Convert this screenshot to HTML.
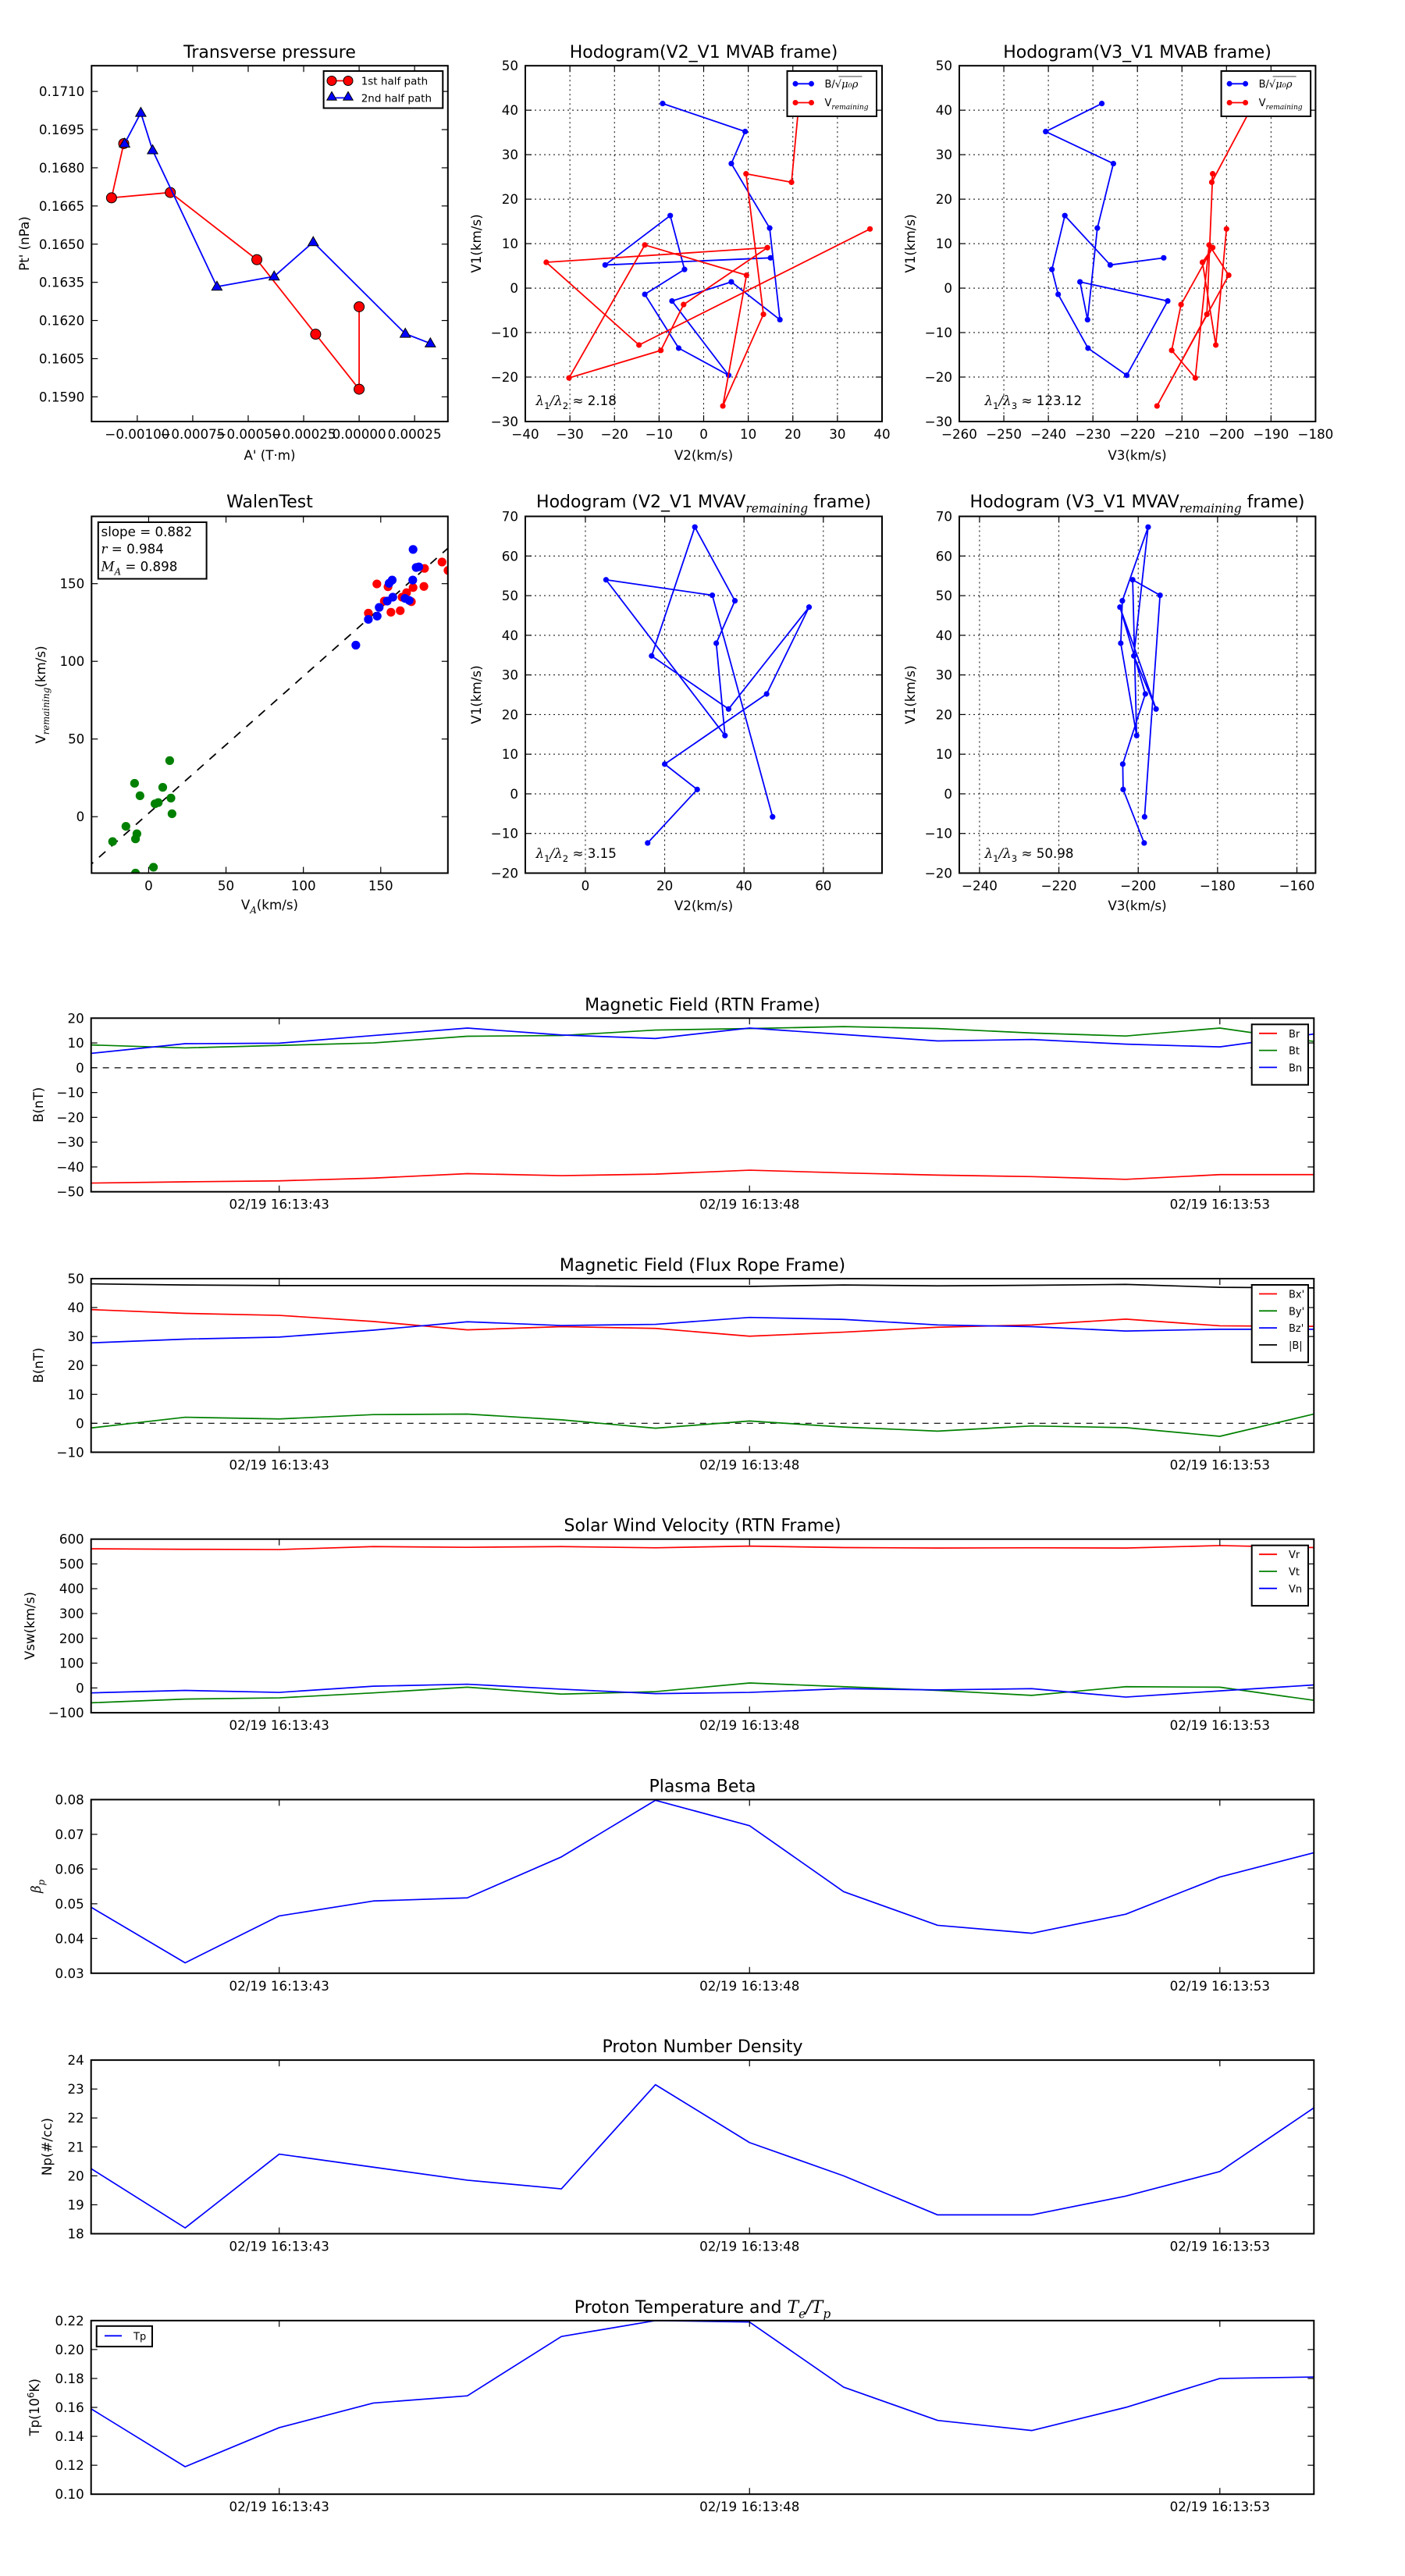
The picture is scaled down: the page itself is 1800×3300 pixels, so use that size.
<!DOCTYPE html>
<html><head><meta charset="utf-8">
<style>
html,body{margin:0;padding:0;background:#fff;}
svg{display:block;font-family:"DejaVu Sans","Liberation Sans",sans-serif;}
</style></head>
<body>
<svg id="fig" width="1800" height="3300" viewBox="0 0 1800 3300" xmlns="http://www.w3.org/2000/svg">
<rect x="0" y="0" width="1800" height="3300" fill="#fff"/>
</svg>
<script>
// ---------- data ----------
// Transverse pressure
const ptRedA = [0.0, 0.0, -0.000196, -0.000461, -0.000851, -0.001116, -0.001061];
const ptRedP = [0.16254, 0.15930, 0.16146, 0.16439, 0.16703, 0.16682, 0.16895];
const ptBlueA = [-0.001057, -0.000984, -0.000931, -0.000641, -0.000383, -0.000207, 0.000208, 0.000321];
const ptBlueP = [0.16895, 0.17016, 0.16869, 0.16333, 0.16373, 0.16508, 0.16148, 0.16110];
const ptXTicks = [-0.001, -0.00075, -0.0005, -0.00025, 0, 0.00025];
const ptXLabels = ["\u22120.00100", "\u22120.00075", "\u22120.00050", "\u22120.00025", "0.00000", "0.00025"];
const ptYTicks = [0.159, 0.1605, 0.162, 0.1635, 0.165, 0.1665, 0.168, 0.1695, 0.171];
const ptYLabels = ["0.1590", "0.1605", "0.1620", "0.1635", "0.1650", "0.1665", "0.1680", "0.1695", "0.1710"];
// Hodogram MVAB (path order)
const hbV2 = [15.0, -22.1, -7.5, -4.3, -13.2, -5.6, 5.6, -7.1, 6.2, 17.1, 14.8, 6.2, 9.3, -9.2];
const hbV1 = [6.8, 5.2, 16.3, 4.2, -1.4, -13.5, -19.6, -2.9, 1.4, -7.1, 13.5, 28.0, 35.2, 41.5];
const hbV3 = [-214.1, -226.1, -236.3, -239.2, -237.8, -231.1, -222.4, -213.2, -232.9, -231.2, -229.0, -225.4, -240.6, -228.0];
const hvV2 = [21.5, 19.7, 9.5, 13.4, 4.3, 9.6, -13.2, -30.2, -9.6, -4.5, 14.3, -35.3, -14.5, 37.3];
const hvV1 = [43.0, 23.8, 25.7, -5.9, -26.5, 2.9, 9.7, -20.2, -14.0, -3.7, 9.1, 5.8, -12.8, 13.3];
const hvV3 = [-193.1, -203.3, -203.1, -204.4, -215.6, -199.5, -203.9, -207.0, -212.3, -210.2, -203.1, -205.4, -202.4, -200.0];
// Hodogram MVAV
const mV2 = [15.7, 28.2, 20.0, 45.7, 56.4, 36.1, 16.7, 27.6, 37.7, 33.0, 35.2, 5.2, 32.0, 47.2];
const mV1 = [-12.4, 1.1, 7.5, 25.2, 47.1, 21.4, 34.8, 67.3, 48.7, 38.0, 14.7, 54.0, 50.1, -5.8];
const mV3 = [-198.5, -203.8, -203.9, -198.2, -204.6, -195.5, -201.1, -197.5, -204.0, -204.4, -200.4, -201.4, -194.5, -198.4];
// Walen test
const wGreenX = [-9.1, -5.6, 13.6, 9.1, 4.1, 6.2, 14.4, 15.1, -14.7, -7.6, -8.5, -23.3, -8.5, 3.1];
const wGreenY = [21.5, 13.5, 36.1, 18.9, 8.3, 9.1, 12.0, 1.9, -6.2, -11.0, -14.3, -16.0, -36.3, -32.5];
const wRedX = [142, 147.5, 152.3, 154.7, 156.6, 162.6, 163.8, 166.7, 169.8, 170.9, 177.9, 178.3, 189.6, 193.5];
const wRedY = [131, 149.8, 138.8, 148, 131.6, 132.6, 141.3, 144.2, 138.4, 147.5, 148.2, 159.8, 163.9, 158.5];
const wBlueX = [133.9, 142, 147.7, 149, 154.2, 155.4, 157.4, 157.8, 165.7, 168.4, 170.9, 170.7, 172.9, 174.6];
const wBlueY = [110.4, 127, 129.1, 134.7, 138.8, 150.2, 152.3, 141.3, 140.5, 139.2, 172, 152.3, 160.4, 160.8];
const wSlope = 0.882;
const wIntercept = 2.2;
// Time series (seconds after 16:13:00)
const tSec = [41, 42, 43, 44, 45, 46, 47, 48, 49, 50, 51, 52, 53, 54];
const tTicks = [43, 48, 53];
const tLabels = ["02/19 16:13:43", "02/19 16:13:48", "02/19 16:13:53"];
const Br = [-46.5, -46, -45.6, -44.5, -42.7, -43.5, -42.9, -41.3, -42.4, -43.3, -43.9, -45, -43.1, -43.1];
const Bt = [9.2, 8, 9, 10, 12.7, 13, 15.2, 15.8, 16.6, 15.8, 14, 12.8, 16, 10.6];
const Bn = [5.8, 9.7, 9.9, 13, 16, 13.2, 11.8, 16, 13.4, 10.8, 11.4, 9.5, 8.4, 13.6];
const Bx = [39.3, 38, 37.3, 35.2, 32.3, 33.4, 32.8, 30.1, 31.5, 33.2, 34, 36, 33.7, 33.5];
const By = [-1.6, 2.1, 1.5, 3, 3.2, 1.2, -1.7, 0.8, -1.3, -2.7, -0.9, -1.5, -4.5, 3.2];
const Bz = [27.8, 29.1, 29.8, 32.2, 35.1, 33.8, 34.2, 36.6, 35.9, 34, 33.4, 31.9, 32.5, 32.5];
const Bmag = [48.2, 47.8, 47.6, 47.6, 47.6, 47.5, 47.3, 47.3, 47.8, 47.5, 47.7, 48, 47, 46.8];
const Vr = [561, 559, 558, 570, 567, 570, 565, 572, 566, 564, 565, 564, 574, 566];
const Vt = [-60, -45, -40, -20, 3, -25, -15, 20, 5, -10, -30, 5, 3, -50];
const Vn = [-20, -10, -18, 7, 15, -5, -23, -18, -3, -8, -3, -37, -12, 12];
const betaP = [0.049, 0.033, 0.0465, 0.0508, 0.0517, 0.0635, 0.0798, 0.0725, 0.0535, 0.0438, 0.0415, 0.047, 0.0577, 0.0647];
const Np = [20.25, 18.2, 20.75, 20.3, 19.85, 19.55, 23.15, 21.15, 20.0, 18.65, 18.65, 19.3, 20.15, 22.35];
const Tp = [0.159, 0.119, 0.146, 0.163, 0.168, 0.209, 0.22, 0.219, 0.174, 0.151, 0.144, 0.160, 0.180, 0.181];

// ---------- helpers ----------
const NS = "http://www.w3.org/2000/svg";
const fig = document.getElementById("fig");
const TITLE_FS = 22;
let clipCount = 0;
function mk(tag, attrs, parent, name) {
  const el = document.createElementNS(NS, tag);
  for (const k in attrs) el.setAttribute(k, attrs[k]);
  
  
  parent.appendChild(el);
  return el;
}
function rich(parent, x, y, parts, size, anchor, name, rotate) {
  const t = mk("text", {x: x, y: y, "font-size": size, "text-anchor": anchor || "middle", fill: "#000"}, parent, name);
  if (rotate) t.setAttribute("transform", "rotate(-90 " + x + " " + y + ")");
  let shift = 0;
  parts.forEach(function (p) {
    const ts = document.createElementNS(NS, "tspan");
    ts.textContent = p[0];
    let want = 0;
    if (p[1] === 'sub') { want = size * 0.3; ts.setAttribute("font-size", size * 0.7); ts.setAttribute("font-style", "italic"); ts.setAttribute("font-family", "DejaVu Serif, Liberation Serif, serif"); }
    else if (p[1] === 'subr') { want = size * 0.3; ts.setAttribute("font-size", size * 0.7); }
    else if (p[1] === 'sup') { want = -size * 0.4; ts.setAttribute("font-size", size * 0.7); }
    else if (p[1] === 'i') { ts.setAttribute("font-style", "italic"); ts.setAttribute("font-family", "DejaVu Serif, Liberation Serif, serif"); }
    if (want !== shift) { ts.setAttribute("dy", want - shift); shift = want; }
    t.appendChild(ts);
  });
  return t;
}
function makeAxes(name, x0, y0, w, h, xr, yr) {
  const g = mk("g", {}, fig, name);
  const sx = function (v) { return x0 + (v - xr[0]) / (xr[1] - xr[0]) * w; };
  const sy = function (v) { return y0 + h - (v - yr[0]) / (yr[1] - yr[0]) * h; };
  const cid = "clip" + (clipCount++);
  const cp = mk("clipPath", {id: cid}, g, name + "-clip");
  mk("rect", {x: x0, y: y0, width: w, height: h}, cp, name + "-clip-rect");
  const plot = mk("g", {"clip-path": "url(#" + cid + ")"}, g, name + "-plot-area");
  return {g: g, plot: plot, sx: sx, sy: sy, x0: x0, y0: y0, w: w, h: h};
}
function grid(ax, xt, yt) {
  xt.forEach(function (v) {
    mk("line", {x1: ax.sx(v), x2: ax.sx(v), y1: ax.y0, y2: ax.y0 + ax.h, stroke: "#000", "stroke-width": 1, "stroke-dasharray": "2,4"}, ax.plot, "x-grid-line");
  });
  yt.forEach(function (v) {
    mk("line", {x1: ax.x0, x2: ax.x0 + ax.w, y1: ax.sy(v), y2: ax.sy(v), stroke: "#000", "stroke-width": 1, "stroke-dasharray": "2,4"}, ax.plot, "y-grid-line");
  });
}
function ticks(ax, xt, xl, yt, yl, fs) {
  fs = fs || 16.7;
  xt.forEach(function (v, i) {
    const X = ax.sx(v);
    mk("line", {x1: X, x2: X, y1: ax.y0 + ax.h, y2: ax.y0 + ax.h - 8, stroke: "#000", "stroke-width": 1.2}, ax.g, "x-tick");
    mk("line", {x1: X, x2: X, y1: ax.y0, y2: ax.y0 + 8, stroke: "#000", "stroke-width": 1.2}, ax.g, "x-tick-top");
    const t = mk("text", {x: X, y: ax.y0 + ax.h + 22, "font-size": fs, "text-anchor": "middle"}, ax.g, "x-tick-label");
    t.textContent = xl[i];
  });
  yt.forEach(function (v, i) {
    const Y = ax.sy(v);
    mk("line", {x1: ax.x0, x2: ax.x0 + 8, y1: Y, y2: Y, stroke: "#000", "stroke-width": 1.2}, ax.g, "y-tick");
    mk("line", {x1: ax.x0 + ax.w, x2: ax.x0 + ax.w - 8, y1: Y, y2: Y, stroke: "#000", "stroke-width": 1.2}, ax.g, "y-tick-right");
    const t = mk("text", {x: ax.x0 - 9, y: Y + 6, "font-size": fs, "text-anchor": "end"}, ax.g, "y-tick-label");
    t.textContent = yl[i];
  });
}
function frame(ax) {
  mk("rect", {x: ax.x0, y: ax.y0, width: ax.w, height: ax.h, fill: "none", stroke: "#000", "stroke-width": 2}, ax.g, "axes-frame");
}
function polyline(ax, xs, ys, color, name, lw) {
  const pts = xs.map(function (v, i) { return ax.sx(v).toFixed(2) + "," + ax.sy(ys[i]).toFixed(2); }).join(" ");
  return mk("polyline", {points: pts, fill: "none", stroke: color, "stroke-width": lw || 1.6, "stroke-linejoin": "round"}, ax.plot, name);
}
function dots(ax, xs, ys, color, r, name, stroke) {
  xs.forEach(function (v, i) {
    const c = mk("circle", {cx: ax.sx(v), cy: ax.sy(ys[i]), r: r, fill: color}, ax.plot, name);
    if (stroke) { c.setAttribute("stroke", "#000"); c.setAttribute("stroke-width", 1); }
  });
}
function tri(parent, cx, cy, s, name) {
  const p = [[cx, cy - s], [cx - s * 0.95, cy + s * 0.65], [cx + s * 0.95, cy + s * 0.65]].map(function (q) { return q[0].toFixed(2) + "," + q[1].toFixed(2); }).join(" ");
  return mk("polygon", {points: p, fill: "#0000ff", stroke: "#000", "stroke-width": 1}, parent, name);
}
function rng(a, b, s) { const o = []; for (let v = a; v <= b + 1e-9; v += s) o.push(Math.round(v * 1e6) / 1e6); return o; }
function fmtInt(v) { return v < 0 ? "\u2212" + Math.abs(v) : String(v); }

// ---------- Panel 1: Transverse pressure ----------
(function () {
  const ax = makeAxes("transverse-pressure-chart", 117.3, 84.2, 456.5, 455.8, [-0.001206, 0.000400], [0.15803, 0.17201]);
  polyline(ax, ptRedA, ptRedP, "#ff0000", "first-half-path-line", 1.8);
  ptRedA.forEach(function (v, i) {
    mk("circle", {cx: ax.sx(v), cy: ax.sy(ptRedP[i]), r: 6.5, fill: "#ff0000", stroke: "#000", "stroke-width": 1}, ax.plot, "first-half-point");
  });
  polyline(ax, ptBlueA, ptBlueP, "#0000ff", "second-half-path-line", 1.8);
  ptBlueA.forEach(function (v, i) { tri(ax.plot, ax.sx(v), ax.sy(ptBlueP[i]), 7, "second-half-point"); });
  ticks(ax, ptXTicks, ptXLabels, ptYTicks, ptYLabels);
  frame(ax);
  rich(fig, 345.5, 74, [["Transverse pressure", ""]], TITLE_FS, "middle", "transverse-pressure-title");
  rich(fig, 345.5, 589, [["A' (T\u00b7m)", ""]], 16.7, "middle", "x-axis-title");
  rich(fig, 37, 312, [["Pt' (nPa)", ""]], 16.7, "middle", "y-axis-title", true);
  const lg = mk("g", {}, fig, "legend");
  mk("rect", {x: 414.6, y: 91, width: 152.7, height: 47.5, fill: "#fff", stroke: "#000", "stroke-width": 2}, lg, "legend-box");
  mk("line", {x1: 425, x2: 446, y1: 103.5, y2: 103.5, stroke: "#ff0000", "stroke-width": 1.8}, lg, "legend-line-first-half");
  mk("circle", {cx: 425, cy: 103.5, r: 6, fill: "#ff0000", stroke: "#000", "stroke-width": 1}, lg, "legend-marker-first-half");
  mk("circle", {cx: 446, cy: 103.5, r: 6, fill: "#ff0000", stroke: "#000", "stroke-width": 1}, lg, "legend-marker-first-half");
  rich(lg, 462.7, 108.5, [["1st half path", ""]], 13.5, "start", "legend-entry-first-half");
  mk("line", {x1: 425, x2: 446, y1: 125.4, y2: 125.4, stroke: "#0000ff", "stroke-width": 1.8}, lg, "legend-line-second-half");
  tri(lg, 425, 124, 6.5, "legend-marker-second-half");
  tri(lg, 446, 124, 6.5, "legend-marker-second-half");
  rich(lg, 462.7, 130.4, [["2nd half path", ""]], 13.5, "start", "legend-entry-second-half");
})();

function hodoLegend(x, name) {
  const lg = mk("g", {}, fig, name);
  mk("rect", {x: x, y: 91, width: 114.5, height: 58, fill: "#fff", stroke: "#000", "stroke-width": 2}, lg, "legend-box");
  mk("line", {x1: x + 10.5, x2: x + 31, y1: 107.3, y2: 107.3, stroke: "#0000ff", "stroke-width": 1.8}, lg, "legend-line-b");
  mk("circle", {cx: x + 10.5, cy: 107.3, r: 3.5, fill: "#0000ff"}, lg, "legend-marker-b");
  mk("circle", {cx: x + 31, cy: 107.3, r: 3.5, fill: "#0000ff"}, lg, "legend-marker-b");
  rich(lg, x + 48, 112, [["B/\u221a", ""], ["\u03bc\u2080\u03c1", "i"]], 13, "start", "legend-entry-b");
  mk("line", {x1: x + 66, x2: x + 96, y1: 98, y2: 98, stroke: "#000", "stroke-width": 0.8}, lg, "sqrt-bar");
  mk("line", {x1: x + 10.5, x2: x + 31, y1: 131.5, y2: 131.5, stroke: "#ff0000", "stroke-width": 1.8}, lg, "legend-line-v");
  mk("circle", {cx: x + 10.5, cy: 131.5, r: 3.5, fill: "#ff0000"}, lg, "legend-marker-v");
  mk("circle", {cx: x + 31, cy: 131.5, r: 3.5, fill: "#ff0000"}, lg, "legend-marker-v");
  rich(lg, x + 48, 136, [["V", ""], ["remaining", "sub"]], 13, "start", "legend-entry-v");
}

// ---------- Panel 2 ----------
(function () {
  const ax = makeAxes("hodogram-v2-v1-mvab", 673, 84.2, 457, 455.8, [-40, 40], [-30, 50]);
  const xt = rng(-40, 40, 10), yt = rng(-30, 50, 10);
  grid(ax, xt, yt);
  polyline(ax, hbV2, hbV1, "#0000ff", "b-alfven-path", 1.8);
  dots(ax, hbV2, hbV1, "#0000ff", 3.6, "b-alfven-point");
  polyline(ax, hvV2, hvV1, "#ff0000", "v-remaining-path", 1.8);
  dots(ax, hvV2, hvV1, "#ff0000", 3.6, "v-remaining-point");
  ticks(ax, xt, xt.map(fmtInt), yt, yt.map(fmtInt));
  frame(ax);
  hodoLegend(1008.5, "legend");
  rich(fig, 901.5, 74, [["Hodogram(V2_V1 MVAB frame)", ""]], TITLE_FS, "middle", "hodogram-v2-mvab-title");
  rich(fig, 901.5, 589, [["V2(km/s)", ""]], 16.7, "middle", "x-axis-title");
  rich(fig, 616, 312, [["V1(km/s)", ""]], 16.7, "middle", "y-axis-title", true);
  rich(fig, 686.5, 519, [["\u03bb", "i"], ["1", "subr"], ["/", "i"], ["\u03bb", "i"], ["2", "subr"], [" \u2248 2.18", ""]], 16.7, "start", "eigenvalue-ratio-label");
})();

// ---------- Panel 3 ----------
(function () {
  const ax = makeAxes("hodogram-v3-v1-mvab", 1229, 84.2, 456.4, 455.8, [-260, -180], [-30, 50]);
  const xt = rng(-260, -180, 10), yt = rng(-30, 50, 10);
  grid(ax, xt, yt);
  polyline(ax, hbV3, hbV1, "#0000ff", "b-alfven-path", 1.8);
  dots(ax, hbV3, hbV1, "#0000ff", 3.6, "b-alfven-point");
  polyline(ax, hvV3, hvV1, "#ff0000", "v-remaining-path", 1.8);
  dots(ax, hvV3, hvV1, "#ff0000", 3.6, "v-remaining-point");
  ticks(ax, xt, xt.map(fmtInt), yt, yt.map(fmtInt));
  frame(ax);
  hodoLegend(1564.6, "legend");
  rich(fig, 1457, 74, [["Hodogram(V3_V1 MVAB frame)", ""]], TITLE_FS, "middle", "hodogram-v3-mvab-title");
  rich(fig, 1457, 589, [["V3(km/s)", ""]], 16.7, "middle", "x-axis-title");
  rich(fig, 1172, 312, [["V1(km/s)", ""]], 16.7, "middle", "y-axis-title", true);
  rich(fig, 1261.5, 519, [["\u03bb", "i"], ["1", "subr"], ["/", "i"], ["\u03bb", "i"], ["3", "subr"], [" \u2248 123.12", ""]], 16.7, "start", "eigenvalue-ratio-label");
})();

// ---------- Panel 4: Walen ----------
(function () {
  const ax = makeAxes("walen-test-chart", 117.3, 661.5, 456.5, 457, [-36.9, 193.4], [-36.3, 193.3]);
  const xl = [-40, 200];
  mk("line", {x1: ax.sx(xl[0]), y1: ax.sy(wSlope * xl[0] + wIntercept), x2: ax.sx(xl[1]), y2: ax.sy(wSlope * xl[1] + wIntercept), stroke: "#000", "stroke-width": 1.8, "stroke-dasharray": "11,10"}, ax.plot, "regression-line");
  dots(ax, wGreenX, wGreenY, "#008000", 5.6, "green-point");
  dots(ax, wRedX, wRedY, "#ff0000", 5.6, "red-point");
  dots(ax, wBlueX, wBlueY, "#0000ff", 5.6, "blue-point");
  const xt = [0, 50, 100, 150], yt = [0, 50, 100, 150];
  ticks(ax, xt, xt.map(fmtInt), yt, yt.map(fmtInt));
  frame(ax);
  const tb = mk("g", {}, fig, "statistics-box");
  mk("rect", {x: 125.8, y: 669, width: 138.8, height: 72.5, fill: "#fff", stroke: "#000", "stroke-width": 2}, tb, "statistics-box-frame");
  rich(tb, 129.5, 687, [["slope = 0.882", ""]], 16.7, "start", "slope-label");
  rich(tb, 129.5, 709, [["r", "i"], [" = 0.984", ""]], 16.7, "start", "correlation-label");
  rich(tb, 129.5, 731.5, [["M", "i"], ["A", "sub"], [" = 0.898", ""]], 16.7, "start", "alfven-mach-label");
  rich(fig, 345.5, 650, [["WalenTest", ""]], TITLE_FS, "middle", "walen-test-title");
  rich(fig, 345.5, 1165, [["V", ""], ["A", "sub"], ["(km/s)", ""]], 16.7, "middle", "x-axis-title");
  rich(fig, 58, 890, [["V", ""], ["remaining", "sub"], ["(km/s)", ""]], 16.7, "middle", "y-axis-title", true);
})();

// ---------- Panel 5 ----------
(function () {
  const ax = makeAxes("hodogram-v2-v1-mvav", 673, 661.5, 457, 457, [-15.15, 74.8], [-20, 70]);
  const xt = [0, 20, 40, 60], yt = rng(-20, 70, 10);
  grid(ax, xt, yt);
  polyline(ax, mV2, mV1, "#0000ff", "b-alfven-path", 1.8);
  dots(ax, mV2, mV1, "#0000ff", 3.6, "b-alfven-point");
  ticks(ax, xt, xt.map(fmtInt), yt, yt.map(fmtInt));
  frame(ax);
  rich(fig, 901.5, 650, [["Hodogram (V2_V1 MVAV", ""], ["remaining", "sub"], [" frame)", ""]], TITLE_FS, "middle", "hodogram-v2-mvav-title");
  rich(fig, 901.5, 1166, [["V2(km/s)", ""]], 16.7, "middle", "x-axis-title");
  rich(fig, 616, 890, [["V1(km/s)", ""]], 16.7, "middle", "y-axis-title", true);
  rich(fig, 686.5, 1099, [["\u03bb", "i"], ["1", "subr"], ["/", "i"], ["\u03bb", "i"], ["2", "subr"], [" \u2248 3.15", ""]], 16.7, "start", "eigenvalue-ratio-label");
})();

// ---------- Panel 6 ----------
(function () {
  const ax = makeAxes("hodogram-v3-v1-mvav", 1229, 661.5, 456.4, 457, [-245.1, -155.3], [-20, 70]);
  const xt = [-240, -220, -200, -180, -160], yt = rng(-20, 70, 10);
  grid(ax, xt, yt);
  polyline(ax, mV3, mV1, "#0000ff", "b-alfven-path", 1.8);
  dots(ax, mV3, mV1, "#0000ff", 3.6, "b-alfven-point");
  ticks(ax, xt, xt.map(fmtInt), yt, yt.map(fmtInt));
  frame(ax);
  rich(fig, 1457, 650, [["Hodogram (V3_V1 MVAV", ""], ["remaining", "sub"], [" frame)", ""]], TITLE_FS, "middle", "hodogram-v3-mvav-title");
  rich(fig, 1457, 1166, [["V3(km/s)", ""]], 16.7, "middle", "x-axis-title");
  rich(fig, 1172, 890, [["V1(km/s)", ""]], 16.7, "middle", "y-axis-title", true);
  rich(fig, 1261.5, 1099, [["\u03bb", "i"], ["1", "subr"], ["/", "i"], ["\u03bb", "i"], ["3", "subr"], [" \u2248 50.98", ""]], 16.7, "start", "eigenvalue-ratio-label");
})();

// ---------- Time series panels ----------
function tsPanel(name, idx, title, ylabel, ylabX, yr, yt, yl, series, legendPos, zero) {
  const y0 = 1304.3 + idx * 333.7;
  const ax = makeAxes(name, 116.7, y0, 1566.6, 222.4, [41, 54], yr);
  if (zero) {
    mk("line", {x1: ax.x0, x2: ax.x0 + ax.w, y1: ax.sy(0), y2: ax.sy(0), stroke: "#000", "stroke-width": 1.2, "stroke-dasharray": "8,7"}, ax.plot, "zero-line");
  }
  series.forEach(function (s) { polyline(ax, tSec, s.v, s.c, s.n + "-line", 1.7); });
  ticks(ax, tTicks, tLabels, yt, yl);
  frame(ax);
  rich(fig, 900, y0 - 10, title, TITLE_FS, "middle", name + "-title");
  rich(fig, ylabX, y0 + 111, ylabel, 16.7, "middle", "y-axis-title", true);
  if (legendPos === "right") {
    const n = series.length;
    const lg = mk("g", {}, fig, "legend");
    mk("rect", {x: 1603.7, y: y0 + 8, width: 72.3, height: n * 21.8 + 12, fill: "#fff", stroke: "#000", "stroke-width": 2}, lg, "legend-box");
    series.forEach(function (s, i) {
      const yy = y0 + 19.5 + i * 21.8;
      mk("line", {x1: 1613, x2: 1636, y1: yy, y2: yy, stroke: s.c, "stroke-width": 1.8}, lg, "legend-line-" + s.n);
      rich(lg, 1651, yy + 5, [[s.label, ""]], 13, "start", "legend-entry-" + s.n);
    });
  } else if (legendPos === "left") {
    const lg = mk("g", {}, fig, "legend");
    mk("rect", {x: 123.7, y: y0 + 7, width: 71.3, height: 26.3, fill: "#fff", stroke: "#000", "stroke-width": 2}, lg, "legend-box");
    mk("line", {x1: 134, x2: 156, y1: y0 + 19.5, y2: y0 + 19.5, stroke: series[0].c, "stroke-width": 1.8}, lg, "legend-line-" + series[0].n);
    rich(lg, 171, y0 + 24.5, [[series[0].label, ""]], 13, "start", "legend-entry-" + series[0].n);
  }
}
const t1 = rng(-50, 20, 10);
tsPanel("magnetic-field-rtn-chart", 0, [["Magnetic Field (RTN Frame)", ""]], [["B(nT)", ""]], 55, [-50, 20], t1, t1.map(fmtInt),
  [{n: "br", label: "Br", v: Br, c: "#ff0000"}, {n: "bt", label: "Bt", v: Bt, c: "#008000"}, {n: "bn", label: "Bn", v: Bn, c: "#0000ff"}], "right", true);
const t2 = rng(-10, 50, 10);
tsPanel("magnetic-field-flux-rope-chart", 1, [["Magnetic Field (Flux Rope Frame)", ""]], [["B(nT)", ""]], 55, [-10, 50], t2, t2.map(fmtInt),
  [{n: "bx", label: "Bx'", v: Bx, c: "#ff0000"}, {n: "by", label: "By'", v: By, c: "#008000"}, {n: "bz", label: "Bz'", v: Bz, c: "#0000ff"}, {n: "bmag", label: "|B|", v: Bmag, c: "#000000"}], "right", true);
const t3 = rng(-100, 600, 100);
tsPanel("solar-wind-velocity-chart", 2, [["Solar Wind Velocity (RTN Frame)", ""]], [["Vsw(km/s)", ""]], 44, [-100, 600], t3, t3.map(fmtInt),
  [{n: "vr", label: "Vr", v: Vr, c: "#ff0000"}, {n: "vt", label: "Vt", v: Vt, c: "#008000"}, {n: "vn", label: "Vn", v: Vn, c: "#0000ff"}], "right", false);
const t4 = rng(0.03, 0.08, 0.01);
tsPanel("plasma-beta-chart", 3, [["Plasma Beta", ""]], [["\u03b2", "i"], ["p", "sub"]], 52, [0.03, 0.08], t4, t4.map(function (v) { return v.toFixed(2); }),
  [{n: "beta", label: "beta", v: betaP, c: "#0000ff"}], "none", false);
const t5 = rng(18, 24, 1);
tsPanel("proton-density-chart", 4, [["Proton Number Density", ""]], [["Np(#/cc)", ""]], 66, [18, 24], t5, t5.map(fmtInt),
  [{n: "np", label: "Np", v: Np, c: "#0000ff"}], "none", false);
const t6 = rng(0.10, 0.22, 0.02);
tsPanel("proton-temperature-chart", 5, [["Proton Temperature and ", ""], ["T", "i"], ["e", "sub"], ["/", "i"], ["T", "i"], ["p", "sub"]], [["Tp(10", ""], ["6", "sup"], ["K)", ""]], 50, [0.10, 0.22], t6, t6.map(function (v) { return v.toFixed(2); }),
  [{n: "tp", label: "Tp", v: Tp, c: "#0000ff"}], "left", false);
</script>
</body></html>
